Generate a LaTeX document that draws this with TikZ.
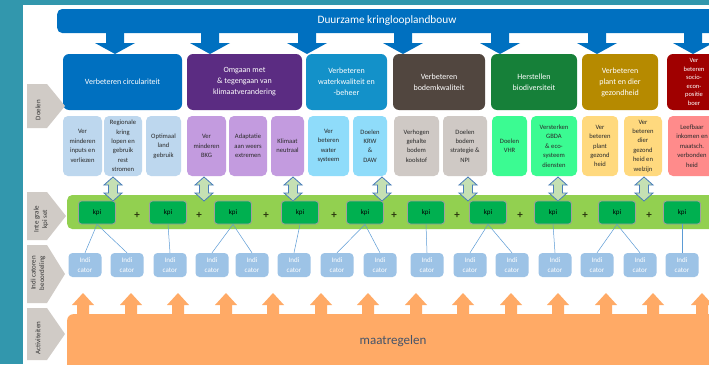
\documentclass[tikz,border=0pt]{standalone}
\usepackage{fontspec}
\setmainfont{Carlito}
\definecolor{bgteal}{HTML}{3297AD}
\definecolor{banner}{HTML}{0070C0}
\definecolor{gA}{HTML}{0070C0}
\definecolor{gB}{HTML}{5B2C82}
\definecolor{gC}{HTML}{1391C9}
\definecolor{gD}{HTML}{51463F}
\definecolor{gE}{HTML}{168039}
\definecolor{gF}{HTML}{B68A00}
\definecolor{gG}{HTML}{A00000}
\definecolor{sA}{HTML}{BDD7EE}
\definecolor{sB}{HTML}{C39BDF}
\definecolor{sC}{HTML}{8FDCFA}
\definecolor{sD}{HTML}{CFC9C5}
\definecolor{sE}{HTML}{3BFB92}
\definecolor{sF}{HTML}{FFD97E}
\definecolor{sG}{HTML}{FF8B8B}
\definecolor{subtext}{HTML}{2A2A2A}
\definecolor{kpiband}{HTML}{92D050}
\definecolor{kpibox}{HTML}{00B050}
\definecolor{indic}{HTML}{9DC3E6}
\definecolor{linkc}{HTML}{5B9BD5}
\definecolor{orangec}{HTML}{FFAA66}
\definecolor{dafill}{HTML}{C5E0B3}
\definecolor{dadraw}{HTML}{4A7EBB}
\definecolor{chev}{HTML}{D0CBC6}
\definecolor{maat}{HTML}{44546A}
\definecolor{plusc}{HTML}{2E3A10}
\tikzset{
  goal/.style={rounded corners=6pt, text=white, font=\fontsize{8}{11}\selectfont, align=center, inner sep=1pt, minimum height=56pt},
  sub/.style={rounded corners=5pt, text=subtext, font=\fontsize{6.6}{9.4}\selectfont, align=center, inner sep=1pt, minimum height=60pt},
  kpi/.style={fill=kpibox, draw=gray!75, line width=0.8pt, rounded corners=3pt, minimum width=37pt, minimum height=23pt, font=\fontsize{7}{8}\selectfont, text=black, inner sep=1pt},
  indbox/.style={fill=indic, rounded corners=4pt, minimum width=33pt, minimum height=24pt, font=\fontsize{7}{10}\selectfont, text=white, align=center, inner sep=1pt},
  plus/.style={font=\bfseries\fontsize{11}{11}\selectfont, text=plusc, inner sep=0pt},
  link/.style={draw=linkc, line width=0.5pt},
  chevlabel/.style={rotate=90, font=\fontsize{7}{8.5}\selectfont, text=black!80, align=center, inner sep=0pt},
}
\begin{document}
\begin{tikzpicture}[x=1pt,y=-1pt]
\useasboundingbox (0,0) rectangle (709,364);
\clip (0,0) rectangle (709,364);
\fill[bgteal] (0,0) rectangle (709,364);
\fill[white] (23,5) rectangle (709,364);

% banner
\node[fill=banner, rounded corners=5pt, minimum width=680pt, minimum height=24pt, anchor=west, inner sep=0pt] (banner) at (57,21) {};
\node[text=white, font=\fontsize{11.3}{13}\selectfont] (bannertext) at (387,21) {Duurzame kringlooplandbouw};
\foreach \c in {115,210,307,403,500,597,693}{
  \fill[banner] ({\c-9},30) -- ({\c+9},30) -- ({\c+9},43) -- ({\c+20},43) -- (\c,54) -- ({\c-20},43) -- ({\c-9},43) -- cycle;
}

% goal boxes
\node[goal, fill=gA, minimum width=119pt] (g1) at (122.5,82) {Verbeteren circulariteit};
\node[goal, fill=gB, minimum width=115pt] (g2) at (244.5,82) {Omgaan met\\\& tegengaan van\\klimaatverandering};
\node[goal, fill=gC, minimum width=81pt] (g3) at (346.5,82) {Verbeteren\\waterkwaliteit en\\-beheer};
\node[goal, fill=gD, minimum width=92pt] (g4) at (439,82) {Verbeteren\\bodemkwaliteit};
\node[goal, fill=gE, minimum width=86pt] (g5) at (534,82) {Herstellen\\biodiversiteit};
\node[goal, fill=gF, minimum width=76pt] (g6) at (620,82) {Verbeteren\\plant en dier\\gezondheid};
\node[goal, fill=gG, minimum width=54pt, font=\fontsize{6.5}{8.6}\selectfont] (g7) at (694,82) {Ver\\beteren\\socio-\\econ-\\positie\\boer};

% sub boxes
\node[sub, fill=sA, minimum width=39pt] (s1) at (82.5,146) {Ver\\minderen\\inputs en\\verliezen};
\node[sub, fill=sA, minimum width=38pt] (s2) at (123,146) {Regionale\\kring\\lopen en\\gebruik\\rest\\stromen};
\node[sub, fill=sA, minimum width=35pt] (s3) at (163.5,146) {Optimaal\\land\\gebruik};
\node[sub, fill=sB, minimum width=39pt] (s4) at (206.5,146) {Ver\\minderen\\BKG};
\node[sub, fill=sB, minimum width=38pt] (s5) at (248,146) {Adaptatie\\aan weers\\extremen};
\node[sub, fill=sB, minimum width=33pt] (s6) at (287.5,146) {Klimaat\\neutraal};
\node[sub, fill=sC, minimum width=41pt] (s7) at (328.5,146) {Ver\\beteren\\water\\systeem};
\node[sub, fill=sC, minimum width=34pt] (s8) at (370,146) {Doelen\\KRW\\\&\\DAW};
\node[sub, fill=sD, minimum width=45pt] (s9) at (416.5,146) {Verhogen\\gehalte\\bodem\\koolstof};
\node[sub, fill=sD, minimum width=44pt] (s10) at (465,146) {Doelen\\bodem\\strategie \&\\NPI};
\node[sub, fill=sE, minimum width=35pt] (s11) at (509.5,146) {Doelen\\VHR};
\node[sub, fill=sE, minimum width=46pt] (s12) at (554,146) {Versterken\\GBDA\\\& eco-\\systeem\\diensten};
\node[sub, fill=sF, minimum width=36pt] (s13) at (600,146) {Ver\\beteren\\plant\\gezond\\heid};
\node[sub, fill=sF, minimum width=38pt] (s14) at (643,146) {Ver\\beteren\\dier\\gezond\\heid en\\welzijn};
\node[sub, fill=sG, minimum width=48pt] (s15) at (692,146) {Leefbaar\\inkomen en\\maatsch.\\verbonden\\heid};

% kpi band
\node[fill=kpiband, rounded corners=5pt, minimum width=660pt, minimum height=34pt, anchor=west, inner sep=0pt] (band) at (67,212) {};

% double arrows
\foreach \c in {113,204,293,382,468,558,644}{
  \filldraw[fill=dafill, draw=dadraw, line width=0.8pt] ({\c-9},185) -- (\c,177) -- ({\c+9},185) -- ({\c+4.5},185) -- ({\c+4.5},193) -- ({\c+9},193) -- (\c,201) -- ({\c-9},193) -- ({\c-4.5},193) -- ({\c-4.5},185) -- cycle;
}

% kpi boxes
\foreach \c [count=\i] in {97,168,233,300,365,426,488,553,617,682}{
  \node[kpi] (k\i) at (\c,212.5) {kpi};
}
\foreach \c [count=\i] in {137,199,266,334,394,457,520,585,649}{
  \node[plus] (p\i) at (\c,215) {+};
}

% indicators
\foreach \c [count=\i] in {85,127,170,212,252,294,337,380,427,470,512,555,597,640,682}{
  \node[indbox] (i\i) at (\c,265) {Indi\\cator};
}

% links
\draw[link] (k1.south) -- (i1.north);
\draw[link] (k1.south) -- (i2.north);
\draw[link] (k2.south) -- (i3.north);
\draw[link] (k3.south) -- (i4.north);
\draw[link] (k3.south) -- (i5.north);
\draw[link] (k4.south) -- (i6.north);
\draw[link] (k5.south) -- (i7.north);
\draw[link] (k5.south) -- (i8.north);
\draw[link] (k6.south) -- (i9.north);
\draw[link] (k7.south) -- (i10.north);
\draw[link] (k7.south) -- (i11.north);
\draw[link] (k8.south) -- (i12.north);
\draw[link] (k9.south) -- (i13.north);
\draw[link] (k9.south) -- (i14.north);
\draw[link] (k10.south) -- (i15.north);

% orange band and arrows
\node[fill=orangec, rounded corners=6pt, minimum width=660pt, minimum height=60pt, anchor=north west, inner sep=0pt] (acts) at (67,314) {};
\node[text=maat, font=\fontsize{13}{15}\selectfont] (maattext) at (393,341) {maatregelen};
\foreach \c in {83,131,178,226,273,321,368,416,463,511,558,606,653,702}{
  \fill[orangec] ({\c-11},305) -- (\c,293) -- ({\c+11},305) -- ({\c+6},305) -- ({\c+6},316) -- ({\c-6},316) -- ({\c-6},305) -- cycle;
}

% left chevrons
\fill[chev] (27,84) -- (47,84) -- (65,106) -- (47,128) -- (27,128) -- cycle;
\node[chevlabel] (l1) at (38,110) {Doelen};
\fill[chev] (27,192) -- (47,192) -- (66,216) -- (47,240) -- (27,240) -- cycle;
\node[chevlabel] (l2) at (41,219) {Inte grale\\kpi set};
\fill[chev] (27,245) -- (47,245) -- (65,274) -- (47,303) -- (27,303) -- cycle;
\node[chevlabel] (l3) at (38,273) {Indi catoren\\beoordeling};
\fill[chev] (27,308) -- (47,308) -- (65,334) -- (47,360) -- (27,360) -- cycle;
\node[chevlabel] (l4) at (38,338) {Activiteiten};
\end{tikzpicture}
\end{document}
